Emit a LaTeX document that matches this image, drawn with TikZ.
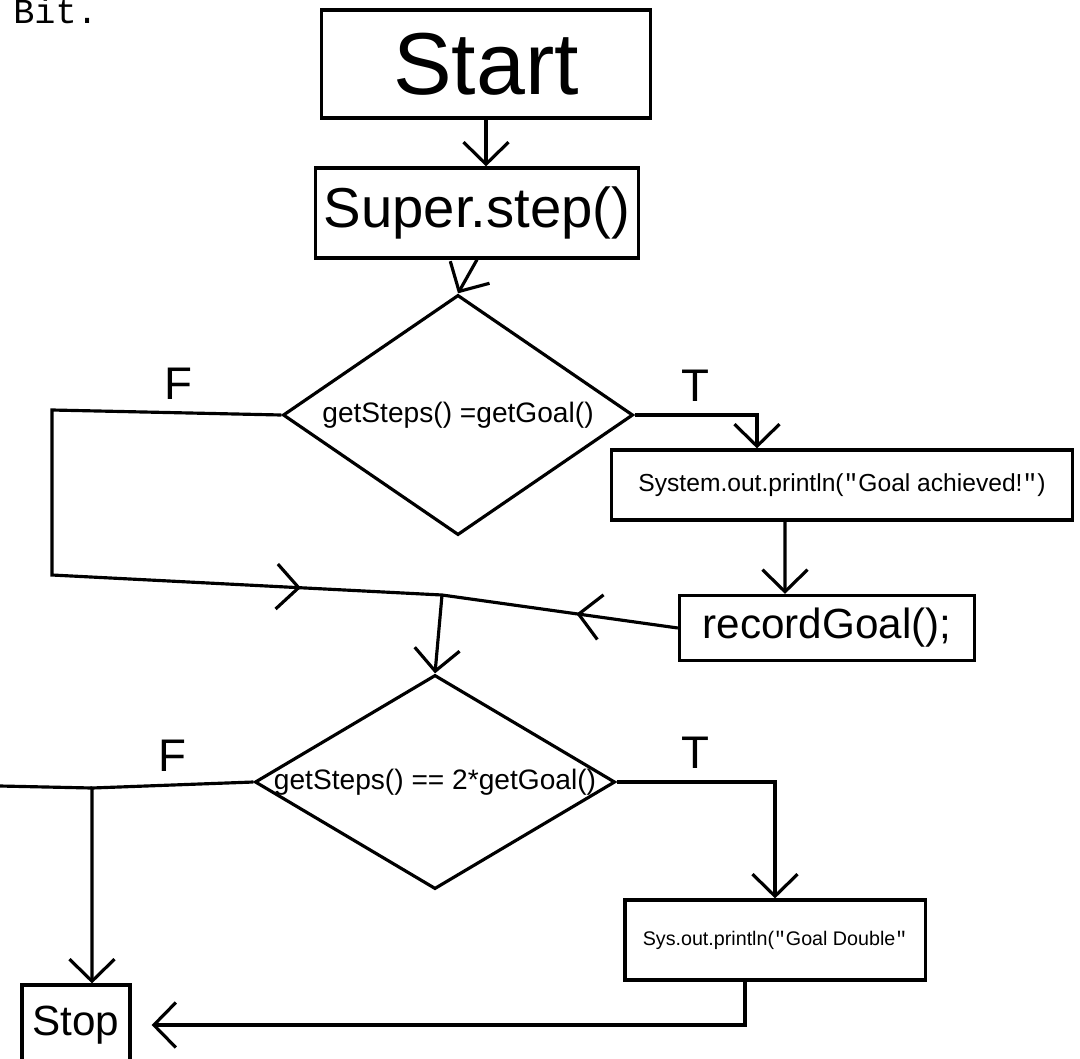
\documentclass[tikz,border=0pt]{standalone}
\usepackage{fontspec}
\setsansfont{Liberation Sans}
\setmonofont{Liberation Mono}
\usetikzlibrary{shapes.geometric,arrows.meta,decorations.markings}
\newcommand{\dq}{{\ttfamily\symbol{34}}}
\begin{document}
\begin{tikzpicture}[x=0.01cm,y=-0.01cm,line width=0.9pt,
  box/.style={draw,rectangle,inner sep=0pt,font=\sffamily},
  dec/.style={draw,diamond,inner sep=0pt,font=\sffamily},
  lbl/.style={font=\sffamily\fontsize{13}{15}\selectfont},
  arr/.style={-{Straight Barb[length=2.2mm,width=4.5mm]}},
  midarr/.style={postaction={decorate},decoration={markings,
    mark=at position #1 with {\arrow{Straight Barb[length=2.2mm,width=4.5mm]}}}}]
  \useasboundingbox (0,0) rectangle (1080,1058);
  % 左上の文字
  \node[anchor=base west,font=\ttfamily\fontsize{10}{12}\selectfont] (bit) at (0,24) {Bit.};
  % 処理ボックス
  \node[box,minimum width=3.28cm,minimum height=1.08cm,font=\sffamily\fontsize{25}{28}\selectfont] (start) at (486,64) {Start};
  \node[box,minimum width=3.22cm,minimum height=0.9cm,font=\sffamily\fontsize{16}{19}\selectfont] (super) at (477,213) {Super.step()};
  \node[dec,minimum width=3.5cm,minimum height=2.4cm,font=\sffamily\fontsize{8}{10}\selectfont] (dec1) at (458,415) {\makebox[0pt]{getSteps() =getGoal()}};
  \node[box,minimum width=4.6cm,minimum height=0.7cm,font=\sffamily\fontsize{7}{9}\selectfont] (sys1) at (842,485) {System.out.println(\dq Goal achieved!\dq)};
  \node[box,minimum width=2.95cm,minimum height=0.65cm,font=\sffamily\fontsize{12}{14}\selectfont] (rec) at (827,628) {recordGoal();};
  \node[dec,minimum width=3.6cm,minimum height=2.14cm,font=\sffamily\fontsize{8}{10}\selectfont] (dec2) at (435,782) {\makebox[0pt]{getSteps() == 2*getGoal()}};
  \node[box,minimum width=3cm,minimum height=0.8cm,font=\sffamily\fontsize{5.6}{7}\selectfont] (sys2) at (775,940) {Sys.out.println(\dq Goal Double\dq};
  \node[box,minimum width=1.08cm,minimum height=0.8cm,font=\sffamily\fontsize{12}{14}\selectfont] (stop) at (76,1025) {Stop};
  % 分岐の折れ点
  \coordinate (fa) at (52,410);
  \coordinate (fb) at (52,575);
  \coordinate (merge) at (442,595);
  \coordinate (fc) at (92,788);
  \coordinate (fstub) at (0,786);
  % 矢印
  \draw[arr] (start.south) -- (start.south |- super.north);
  \draw[arr] (super.south) -- (dec1.north);
  \draw[midarr=0.82] (dec1.west) -- node[lbl,above,pos=0.45] (lf1) {F} (fa) -- (fb) -- (merge);
  \draw[arr] (dec1.east) -| node[lbl,above,pos=0.25] (lt1) {T} ([xshift=-0.85cm]sys1.north);
  \draw[arr] ([xshift=-0.57cm]sys1.south) -- ([xshift=-0.42cm]rec.north);
  \draw[midarr=0.43] (rec.west) -- (merge);
  \draw[arr] (merge) -- (dec2.north);
  \draw (fc) -- (fstub);
  \draw[arr] (dec2.west) -- node[lbl,above] (lf2) {F} (fc) -- (fc |- stop.north);
  \draw[arr] (dec2.east) -| node[lbl,above,pos=0.25] (lt2) {T} (sys2.north);
  \draw[arr,shorten >=2mm] ([xshift=-0.3cm]sys2.south) |- (stop.east);
\end{tikzpicture}
\end{document}
